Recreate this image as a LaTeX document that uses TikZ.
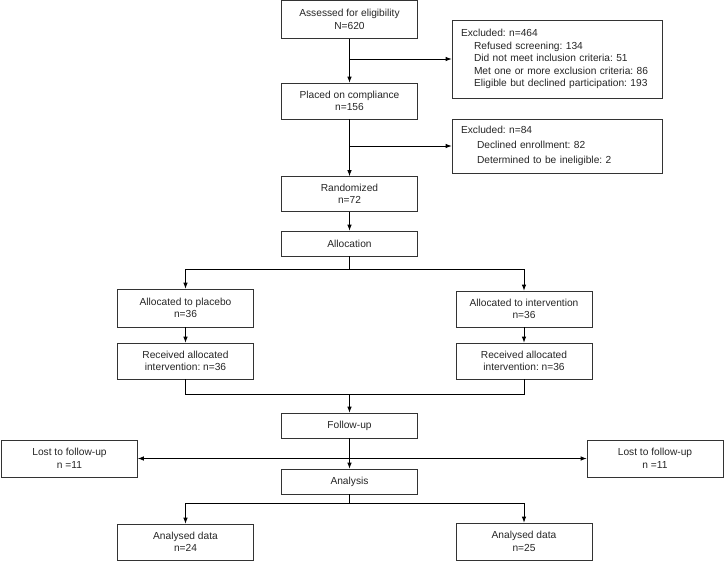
\documentclass[tikz,border=0pt]{standalone}
\usepackage{fontspec}
\setmainfont{Liberation Sans}
\usetikzlibrary{arrows.meta}
\frenchspacing

\begin{document}
\begin{tikzpicture}[x=1pt, y=-1pt, line width=0.75pt,
  >={Latex[length=6pt,width=4.5pt]},
  box/.style={rectangle, draw=black!80, fill=white, text=black!85, inner sep=2pt, font=\fontsize{10.2}{12.5}\selectfont},
  stage/.style={box, align=center, minimum width=136pt, minimum height=36pt},
  shortbox/.style={stage, minimum height=25pt},
  exclbox/.style={box, align=left, inner xsep=9pt, text width=192pt}]
\useasboundingbox (0,0) rectangle (724,562);

% Main flow
\node[stage, minimum height=38pt] (assess) at (349.5,19.5) {Assessed for eligibility\\N=620};
\node[stage] (comply) at (349.5,101) {Placed on compliance\\n=156};
\node[stage, minimum height=35pt] (random) at (349.5,194) {Randomized\\n=72};
\node[shortbox] (alloc) at (349.5,243.5) {Allocation};
\node[shortbox] (follow) at (349.5,425.5) {Follow-up};
\node[shortbox] (analysis) at (349.5,481.5) {Analysis};

% Exclusions
\node[exclbox, minimum height=78pt] (excl1) at (557,59) {Excluded: n=464\\
  \hspace*{13pt}Refused screening: 134\\
  \hspace*{13pt}Did not meet inclusion criteria: 51\\
  \hspace*{13pt}Met one or more exclusion criteria: 86\\
  \hspace*{13pt}Eligible but declined participation: 193};
\node[exclbox, minimum height=54pt] (excl2) at (557,146) {Excluded: n=84\\[2.5pt]
  \hspace*{16pt}Declined enrollment: 82\\[2.5pt]
  \hspace*{16pt}Determined to be ineligible: 2};

% Study arms
\node[stage, minimum height=38pt] (placebo) at (185.5,308) {Allocated to placebo\\n=36};
\node[stage] (recvP) at (185.5,361) {Received allocated\\intervention: n=36};
\node[stage] (interv) at (524,309) {Allocated to intervention\\n=36};
\node[stage] (recvI) at (524,361) {Received allocated\\intervention: n=36};
\node[stage, minimum height=37pt] (lostL) at (69.5,458.5) {Lost to follow-up\\n =11};
\node[stage, minimum height=37pt] (lostR) at (655,458.5) {Lost to follow-up\\n =11};
\node[stage] (anaL) at (185.5,542) {Analysed data\\n=24};
\node[stage, minimum height=37pt] (anaR) at (524,541.5) {Analysed data\\n=25};

% Junctions
\coordinate (split1) at (349.5,269);
\coordinate (merge) at (349.5,394);
\coordinate (split2) at (349.5,503);

% Arrows
\draw[->] (assess) -- (comply);
\draw[->] (assess.south |- excl1.west) -- (excl1.west);
\draw[->] (comply) -- (random);
\draw[->] (comply.south |- excl2.west) -- (excl2.west);
\draw[->] (random) -- (alloc);
\draw (alloc) -- (split1);
\draw[->] (split1) -| (placebo.north);
\draw[->] (split1) -| (interv.north);
\draw[->] (placebo) -- (recvP);
\draw[->] (interv) -- (recvI);
\draw (recvP.south) |- (merge);
\draw (recvI.south) |- (merge);
\draw[->] (merge) -- (follow);
\draw[->] (follow) -- (analysis);
\draw[<->] (lostL) -- (lostR);
\draw (analysis) -- (split2);
\draw[->] (split2) -| (anaL.north);
\draw[->] (split2) -| (anaR.north);
\end{tikzpicture}
\end{document}
